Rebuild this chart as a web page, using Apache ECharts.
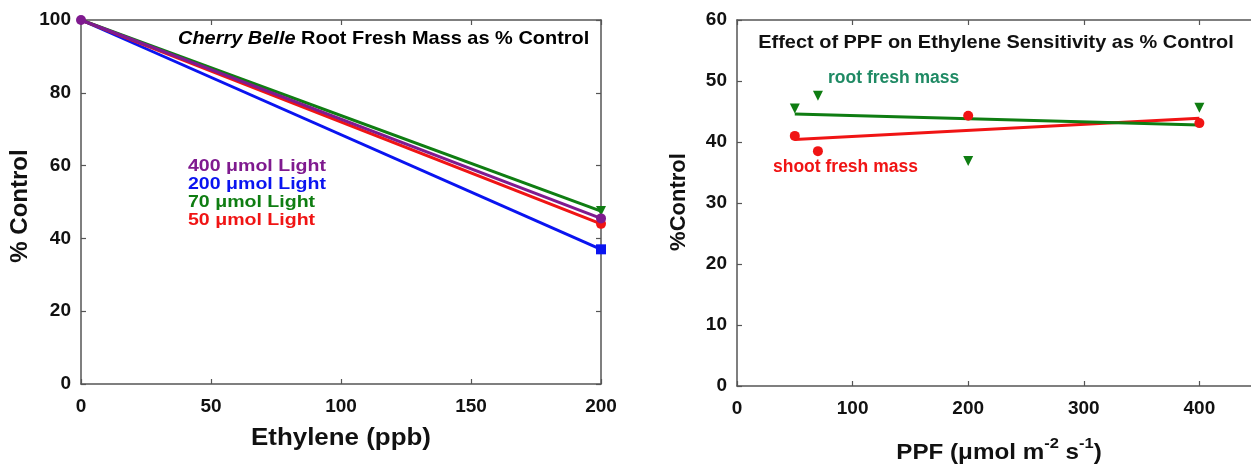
<!DOCTYPE html>
<html><head><meta charset="utf-8">
<script src="https://cdn.jsdelivr.net/npm/echarts@6/dist/echarts.min.js"></script>
<style>html,body{margin:0;padding:0;background:#fff}#c{width:1251px;height:466px}</style>
</head><body><div id="c"></div>
<script>
// Left chart: ethylene response
const ethylene = [0, 200];
const light400 = [100, 45.5];
const light200 = [100, 37.0];
const light70 = [100, 47.5];
const light50 = [100, 44.0];
const leftXTicks = [0, 50, 100, 150, 200];
const leftYTicks = [0, 20, 40, 60, 80, 100];

// Right chart: PPF effect
const ppf = [50, 70, 200, 400];
const rootMass = [45.5, 47.6, 36.9, 45.6];
const shootMass = [41.0, 38.5, 44.3, 43.1];
const rootFitX = [50, 400];
const rootFit = [44.6, 42.8];
const shootFitX = [50, 400];
const shootFit = [40.4, 43.9];
const rightXTicks = [0, 100, 200, 300, 400, 500];
const rightYTicks = [0, 10, 20, 30, 40, 50, 60];

const C = {purple:'#7f1a8f', blue:'#0a14f0', green:'#0f7d12', red:'#f01414', teal:'#1f8a64'};
const FONT = 'Liberation Sans, Arial, sans-serif';
const lab = {color:'#111', fontWeight:'bold', fontSize:19, fontFamily:FONT};

function pairs(xs, ys){ return xs.map((x,i)=>[x, ys[i]]); }

function mkX(grid, ticks, show, pos){
  return {type:'value', gridIndex:grid, min:ticks[0], max:ticks[ticks.length-1],
    interval:ticks[1]-ticks[0], position:pos,
    axisLine:{show:true, onZero:false, lineStyle:{color:'#555', width:1.5}},
    axisTick:{show:true, inside:true, length:5, lineStyle:{color:'#555', width:1.2}},
    axisLabel: show ? Object.assign({margin:13}, lab) : {show:false},
    splitLine:{show:false}};
}
function mkY(grid, ticks, show, pos){
  return {type:'value', gridIndex:grid, min:ticks[0], max:ticks[ticks.length-1],
    interval:ticks[1]-ticks[0], position:pos,
    axisLine:{show:true, onZero:false, lineStyle:{color:'#555', width:1.5}},
    axisTick:{show:true, inside:true, length:5, lineStyle:{color:'#555', width:1.2}},
    axisLabel: show ? Object.assign({margin:10}, lab) : {show:false},
    splitLine:{show:false}};
}

function line(name, color, data, symbol, rotate, showFirst){
  return {type:'line', name, xAxisIndex:0, yAxisIndex:0, data,
    symbol:(v, p) => (p.dataIndex === 0 && !showFirst) ? 'none' : symbol,
    symbolSize:10, symbolRotate:rotate||0, showAllSymbol:true,
    lineStyle:{color, width:3}, itemStyle:{color, opacity:1}, z:3};
}

const option = {
  animation:false,
  grid:[
    {left:81, top:20, width:520, height:364, outerBoundsMode:'none', containLabel:false},
    {left:737, top:20, width:578, height:366, outerBoundsMode:'none', containLabel:false}
  ],
  xAxis:[
    mkX(0, leftXTicks, true, 'bottom'),
    mkX(1, rightXTicks, true, 'bottom'),
    mkX(0, leftXTicks, false, 'top'),
    mkX(1, rightXTicks, false, 'top')
  ],
  yAxis:[
    mkY(0, leftYTicks, true, 'left'),
    mkY(1, rightYTicks, true, 'left'),
    mkY(0, leftYTicks, false, 'right'),
    mkY(1, rightYTicks, false, 'right')
  ],
  series:[
    line('200', C.blue, pairs(ethylene, light200), 'rect'),
    line('50', C.red, pairs(ethylene, light50), 'circle'),
    line('70', C.green, pairs(ethylene, light70), 'triangle', 180),
    line('400', C.purple, pairs(ethylene, light400), 'circle', 0, true),
    {type:'line', xAxisIndex:1, yAxisIndex:1, data:pairs(shootFitX, shootFit), symbol:'none',
      lineStyle:{color:C.red, width:3}, z:3},
    {type:'line', xAxisIndex:1, yAxisIndex:1, data:pairs(rootFitX, rootFit), symbol:'none',
      lineStyle:{color:C.green, width:3}, z:3},
    {type:'scatter', xAxisIndex:1, yAxisIndex:1, data:pairs(ppf, shootMass), symbol:'circle',
      symbolSize:10, itemStyle:{color:C.red, opacity:1}, z:4},
    {type:'scatter', xAxisIndex:1, yAxisIndex:1, data:pairs(ppf, rootMass), symbol:'triangle',
      symbolRotate:180, symbolSize:10, itemStyle:{color:C.green, opacity:1}, z:4}
  ],
  graphic:[
    {type:'text', x:178, y:29, scaleX:1.05, style:{
      rich:{i:{fontStyle:'italic', fontWeight:'bold', fontSize:19, fontFamily:FONT, fill:'#000'},
            b:{fontWeight:'bold', fontSize:19, fontFamily:FONT, fill:'#000'}},
      text:'{i|Cherry Belle}{b| Root Fresh Mass as % Control}'}},
    {type:'text', x:188, y:158, scaleX:1.15, style:{text:'400 μmol Light', fill:C.purple, fontWeight:'bold', fontSize:17, fontFamily:FONT}},
    {type:'text', x:188, y:176, scaleX:1.15, style:{text:'200 μmol Light', fill:C.blue, fontWeight:'bold', fontSize:17, fontFamily:FONT}},
    {type:'text', x:188, y:194, scaleX:1.15, style:{text:'70 μmol Light', fill:C.green, fontWeight:'bold', fontSize:17, fontFamily:FONT}},
    {type:'text', x:188, y:212, scaleX:1.15, style:{text:'50 μmol Light', fill:C.red, fontWeight:'bold', fontSize:17, fontFamily:FONT}},
    {type:'text', x:341, y:438, scaleX:1.08, style:{text:'Ethylene (ppb)', fill:'#111', fontWeight:'bold', fontSize:24, fontFamily:FONT, align:'center', verticalAlign:'middle'}},
    {type:'text', x:20, y:206, rotation:Math.PI/2, style:{text:'% Control', fill:'#111', fontWeight:'bold', fontSize:24, fontFamily:FONT, align:'center', verticalAlign:'middle'}},
    {type:'text', x:996, y:43, scaleX:1.05, style:{text:'Effect of PPF on Ethylene Sensitivity as % Control', fill:'#111', fontWeight:'bold', fontSize:19, fontFamily:FONT, align:'center', verticalAlign:'middle'}},
    {type:'text', x:828, y:69, style:{text:'root fresh mass', fill:C.teal, fontWeight:'bold', fontSize:17.5, fontFamily:FONT}},
    {type:'text', x:773, y:158, style:{text:'shoot fresh mass', fill:C.red, fontWeight:'bold', fontSize:17.5, fontFamily:FONT}},
    {type:'text', x:679, y:202, rotation:Math.PI/2, style:{text:'%Control', fill:'#111', fontWeight:'bold', fontSize:22, fontFamily:FONT, align:'center', verticalAlign:'middle'}},
    {type:'text', x:999, y:450, scaleX:1.1, style:{
      rich:{n:{fontWeight:'bold', fontSize:22, fontFamily:FONT, fill:'#111', lineHeight:28, verticalAlign:'bottom'},
            s:{fontWeight:'bold', fontSize:15, fontFamily:FONT, fill:'#111', lineHeight:28, verticalAlign:'top'}},
      text:'{n|PPF (μmol m}{s|-2}{n| s}{s|-1}{n|)}', align:'center', verticalAlign:'middle'}}
  ]
};
const chart = echarts.init(document.getElementById('c'), null, {renderer:'canvas'});
chart.setOption(option);
</script></body></html>
